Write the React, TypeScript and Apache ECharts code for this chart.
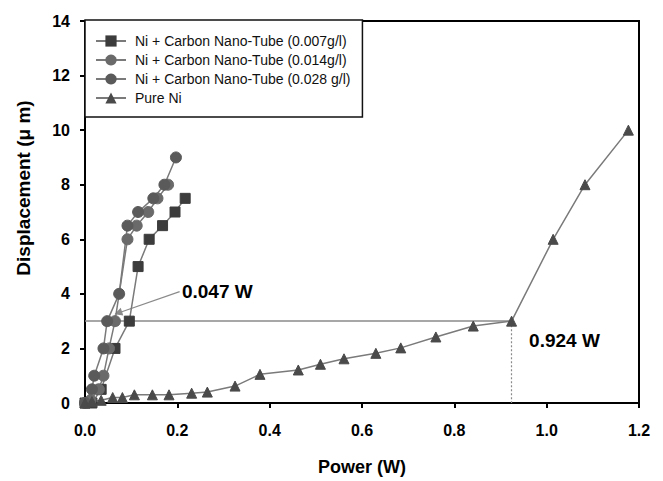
import React, { useEffect, useRef } from "react";
import * as echarts from "echarts";

const seriesNames = [
  "Ni + Carbon Nano-Tube (0.007g/l)",
  "Ni + Carbon Nano-Tube (0.014g/l)",
  "Ni + Carbon Nano-Tube (0.028 g/l)",
  "Pure Ni",
];

const cnt007: [number, number][] = [
  [0, 0], [0.015, 0], [0.035, 0.5], [0.065, 2], [0.096, 3], [0.115, 5],
  [0.139, 6], [0.168, 6.5], [0.195, 7], [0.217, 7.5],
];
const cnt014: [number, number][] = [
  [0, 0], [0.012, 0.1], [0.03, 0.5], [0.04, 1], [0.052, 2], [0.065, 3],
  [0.092, 6], [0.112, 6.5], [0.137, 7], [0.157, 7.5], [0.18, 8],
];
const cnt028: [number, number][] = [
  [0, 0], [0.015, 0.5], [0.02, 1], [0.04, 2], [0.048, 3], [0.074, 4],
  [0.092, 6.5], [0.115, 7], [0.148, 7.5], [0.172, 8], [0.197, 9],
];
const pureNi: [number, number][] = [
  [0, 0], [0.015, 0.05], [0.035, 0.1], [0.06, 0.2], [0.081, 0.2],
  [0.107, 0.3], [0.146, 0.3], [0.182, 0.3], [0.231, 0.36], [0.265, 0.4],
  [0.325, 0.62], [0.379, 1.05], [0.462, 1.21], [0.51, 1.42], [0.561, 1.62],
  [0.63, 1.82], [0.684, 2.02], [0.76, 2.42], [0.841, 2.82], [0.924, 3.0],
  [1.014, 6.0], [1.083, 8.0], [1.177, 10.0],
];

const thresholdY = 3;
const niPower = 0.924;
const cntPower = 0.047;
const cntArrowTip: [number, number] = [0.072, 3.3];
const cntLabelPos: [number, number] = [0.21, 4.08];
const niLabelPos: [number, number] = [0.962, 2.3];
const xTitle = "Power (W)";
const yTitle = "Displacement (μ m)";

const FONT = "Liberation Sans, Arial, sans-serif";

export default function App() {
  const ref = useRef<HTMLDivElement>(null);
  useEffect(() => {
    document.body.style.margin = "0";
    const chart = echarts.init(ref.current!, undefined, { renderer: "svg" });
    const lineColor = "#7a7a7a";
    const mk = (
      name: string,
      data: [number, number][],
      symbol: string,
      size: number,
      color: string,
      extra: any = {}
    ) => ({
      name,
      type: "line",
      data,
      symbol,
      symbolSize: size,
      showSymbol: true,
      itemStyle: { color, borderColor: color },
      lineStyle: { color: lineColor, width: 1.5 },
      z: 3,
      ...extra,
    });
    const annLabel = (text: string) => ({
      show: true,
      position: "right",
      distance: 0,
      formatter: text,
      fontFamily: FONT,
      fontWeight: "bold",
      fontSize: 19,
      color: "#000",
    });
    chart.setOption({
      animation: false,
      backgroundColor: "#fff",
      textStyle: { fontFamily: FONT },
      grid: {
        left: 85,
        top: 21,
        right: 24,
        bottom: 76,
        show: true,
        borderColor: "#000",
        borderWidth: 2,
        backgroundColor: "transparent",
      },
      graphic: [
        {
          type: "text",
          x: 23,
          y: 188,
          rotation: Math.PI / 2,
          style: {
            text: yTitle,
            fontFamily: FONT,
            fontWeight: "bold",
            fontSize: 19,
            fill: "#000",
            align: "center",
            verticalAlign: "middle",
          },
        },
      ],
      legend: {
        left: 85,
        top: 20,
        orient: "vertical",
        data: seriesNames,
        backgroundColor: "#fff",
        borderColor: "#111",
        borderWidth: 1.5,
        padding: [14, 12, 12, 10],
        itemGap: 5,
        itemWidth: 30,
        itemHeight: 14,
        textStyle: { fontFamily: FONT, fontSize: 14, color: "#111", padding: [0, 0, 0, 4] },
        z: 10,
      },
      xAxis: {
        type: "value",
        min: 0,
        max: 1.2,
        interval: 0.2,
        name: xTitle,
        nameLocation: "middle",
        nameGap: 55,
        nameTextStyle: { fontFamily: FONT, fontWeight: "bold", fontSize: 18, color: "#000" },
        axisLine: { lineStyle: { color: "#000", width: 2 } },
        axisTick: { show: true, length: 5, inside: false, lineStyle: { color: "#000", width: 2 } },
        axisLabel: {
          formatter: (v: number) => v.toFixed(1),
          fontFamily: FONT,
          fontWeight: "bold",
          fontSize: 16,
          color: "#000",
          margin: 19,
        },
        splitLine: { show: false },
      },
      yAxis: {
        type: "value",
        min: 0,
        max: 14,
        interval: 2,
        axisLine: { lineStyle: { color: "#000", width: 2 } },
        axisTick: { show: true, length: 5, lineStyle: { color: "#000", width: 2 } },
        axisLabel: {
          fontFamily: FONT,
          fontWeight: "bold",
          fontSize: 16,
          color: "#000",
          margin: 15,
        },
        splitLine: { show: false },
      },
      series: [
        mk(seriesNames[0], cnt007, "rect", 10, "#3c3c3c"),
        mk(seriesNames[1], cnt014, "circle", 11, "#6a6a6a"),
        mk(seriesNames[2], cnt028, "circle", 11, "#5a5a5a"),
        mk(seriesNames[3], pureNi, "triangle", 10, "#4a4a4a", {
          markLine: {
            silent: true,
            symbol: ["none", "none"],
            label: { show: false },
            z: 2,
            data: [
              [
                { coord: [0, thresholdY], lineStyle: { color: "#8a8a8a", width: 1.5, type: "solid" } },
                { coord: [niPower, thresholdY] },
              ],
              [
                { coord: [niPower, thresholdY], lineStyle: { color: "#8a8a8a", width: 1.2, type: [2, 2] } },
                { coord: [niPower, 0] },
              ],
              [
                {
                  coord: [cntLabelPos[0] - 0.005, cntLabelPos[1]],
                  lineStyle: { color: "#8a8a8a", width: 1.2, type: "solid" },
                  symbol: "none",
                },
                { coord: cntArrowTip, symbol: "triangle", symbolSize: 8 },
              ],
            ],
          },
          markPoint: {
            silent: true,
            symbol: "circle",
            symbolSize: 0,
            data: [
              { coord: cntLabelPos, label: annLabel(`${cntPower} W`) },
              { coord: niLabelPos, label: annLabel(`${niPower} W`) },
            ],
          },
        }),
      ],
    });
    return () => chart.dispose();
  }, []);
  return <div ref={ref} style={{ width: 663, height: 481 }} />;
}
